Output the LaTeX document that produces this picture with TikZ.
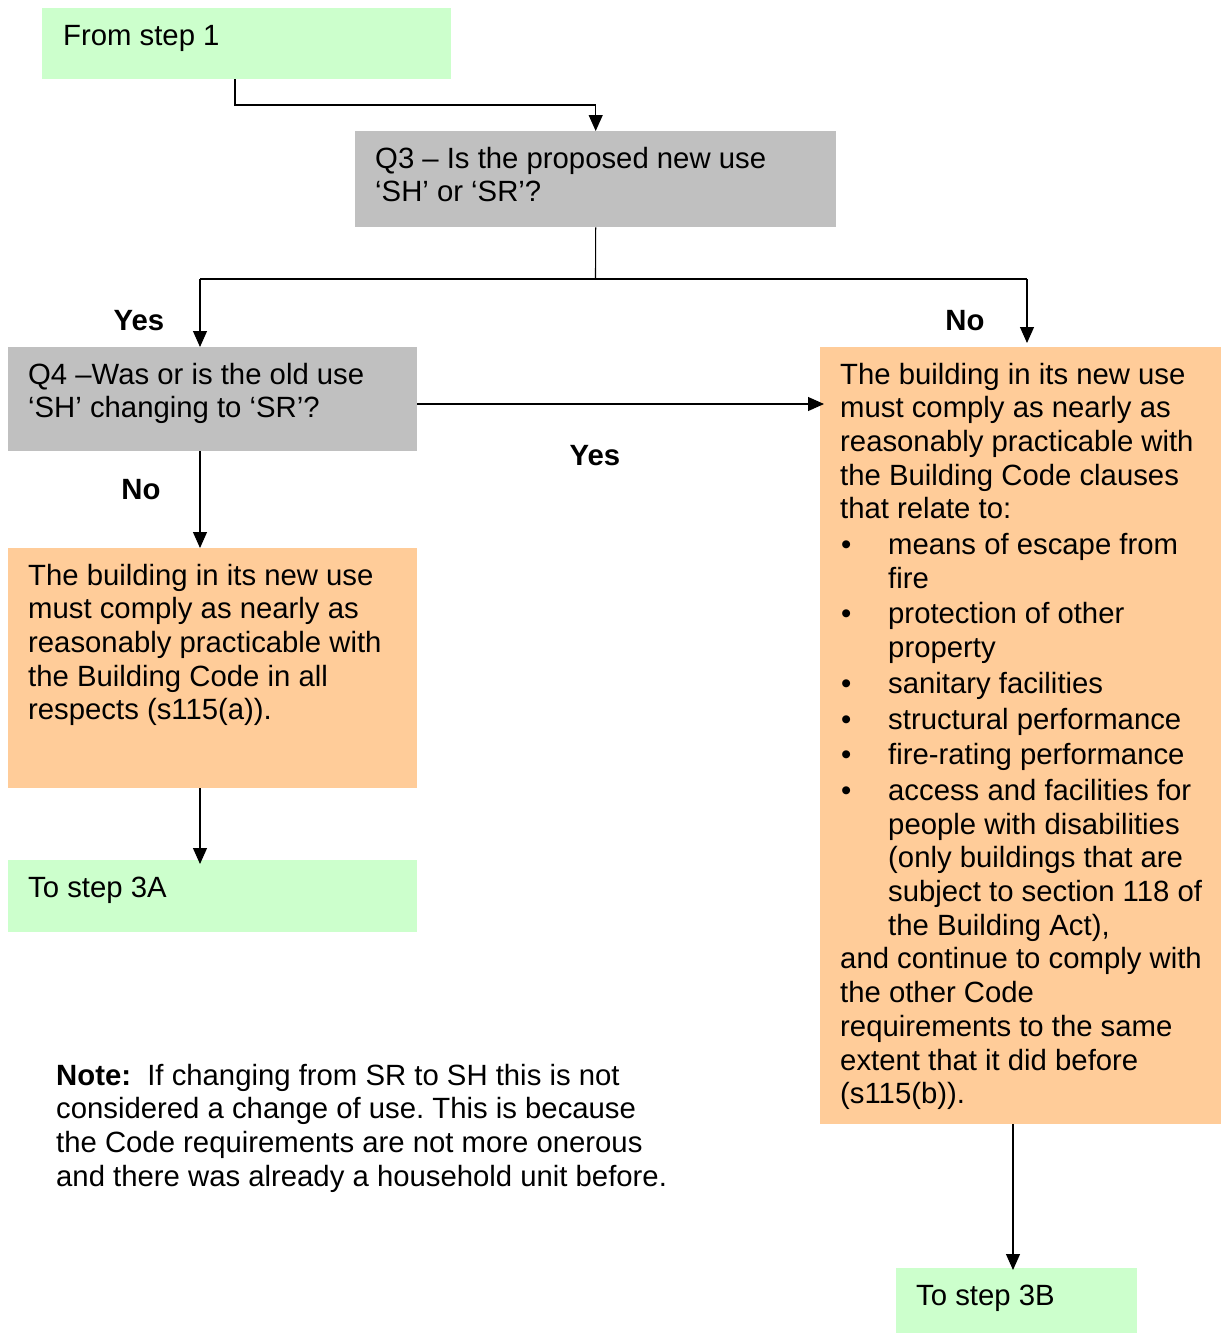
\documentclass[tikz,border=0pt]{standalone}
\usepackage{fontspec}
\setmainfont{Liberation Sans}
\usetikzlibrary{arrows.meta}
\definecolor{boxgreen}{HTML}{CCFFCC}
\definecolor{boxgray}{HTML}{C0C0C0}
\definecolor{boxorange}{HTML}{FFCC99}
\newcommand{\bitem}{\makebox[48pt][l]{\hspace{1pt}•}}
\newcommand{\bcont}{\hspace*{48pt}}
\frenchspacing
\begin{document}
\begin{tikzpicture}[x=1pt,y=-1pt,
  box/.style={draw=none, inner sep=0pt, anchor=north west},
  txt/.style={anchor=base west, inner sep=0pt, font=\fontsize{29.3}{33.7}\selectfont},
  lbl/.style={anchor=base, inner sep=0pt, font=\fontsize{29.3}{33.7}\selectfont\bfseries},
  arr/.style={line width=1.1pt, -{Triangle[length=16pt,width=14pt]}},
  ln/.style={line width=1.1pt}]
\useasboundingbox (0,0) rectangle (1221,1333);
% boxes
\node[box, fill=boxgreen, minimum width=409pt, minimum height=71pt] (s1) at (42,8) {};
\node[box, fill=boxgray, minimum width=481pt, minimum height=96pt] (q3) at (355,131) {};
\node[box, fill=boxgray, minimum width=409pt, minimum height=104pt] (q4) at (8,347) {};
\node[box, fill=boxorange, minimum width=409pt, minimum height=240pt] (lo) at (8,548) {};
\node[box, fill=boxgreen, minimum width=409pt, minimum height=72pt] (s3a) at (8,860) {};
\node[box, fill=boxorange, minimum width=401pt, minimum height=777pt] (ro) at (820,347) {};
\node[box, fill=boxgreen, minimum width=241pt, minimum height=65pt] (s3b) at (896,1268) {};
% texts
\node[txt] (t1) at (63,45) {From step 1};
\node[txt] (tq3) at (375,168) {\parbox[t]{470pt}{Q3 – Is the proposed new use\\‘SH’ or ‘SR’?}};
\node[txt] (tq4) at (28,384) {\parbox[t]{400pt}{Q4 –Was or is the old use\\‘SH’ changing to ‘SR’?}};
\node[txt] (tlo) at (28,585) {\parbox[t]{400pt}{The building in its new use\\must comply as nearly as\\reasonably practicable with\\the Building Code in all\\respects (s115(a)).}};
\node[txt] (t3a) at (28,897) {To step 3A};
\node[txt] (tro) at (840,384) {\parbox[t]{400pt}{The building in its new use\\must comply as nearly as\\reasonably practicable with\\the Building Code clauses\\that relate to:\\[2pt]
\bitem means of escape from\\\bcont fire\\[2pt]
\bitem protection of other\\\bcont property\\[2pt]
\bitem sanitary facilities\\[2pt]
\bitem structural performance\\[2pt]
\bitem fire-rating performance\\[2pt]
\bitem access and facilities for\\\bcont people with disabilities\\\bcont (only buildings that are\\\bcont subject to section 118 of\\\bcont the Building Act),\\
and continue to comply with\\the other Code\\requirements to the same\\extent that it did before\\(s115(b)).}};
\node[txt] (t3b) at (916,1305) {To step 3B};
\node[txt] (note) at (56,1085) {\parbox[t]{700pt}{\textbf{Note:}\ \ If changing from SR to SH this is not\\considered a change of use. This is because\\the Code requirements are not more onerous\\and there was already a household unit before.}};
% labels
\node[lbl] (yes1) at (139,330) {Yes};
\node[lbl] (no1) at (965,330) {No};
\node[lbl] (yes2) at (595,465) {Yes};
\node[lbl] (no2) at (141,499) {No};
% junction coordinates
\coordinate (j1) at (235,105);
\coordinate (jm) at (595.5,279);
\coordinate (jl) at (200,279);
\coordinate (jr) at (1027,279);
\coordinate (hy) at (0,404);
\coordinate (jb) at (1013,0);
% connectors
\draw[arr] (s1.south -| j1) -- (j1) -| (q3.north);
\draw[ln] (q3.south) -- (jm);
\draw[ln] (jl) -- (jr);
\draw[arr] (jl) -- (q4.north -| jl);
\draw[arr] (jr) -- ([yshift=4pt]ro.north -| jr);
\draw[arr] (q4.east |- hy) -- ([xshift=4pt]ro.west |- hy);
\draw[arr] (q4.south -| jl) -- (lo.north -| jl);
\draw[arr] (lo.south -| jl) -- ([yshift=-4pt]s3a.north -| jl);
\draw[arr] (ro.south -| jb) -- ([yshift=-2pt]s3b.north -| jb);
\end{tikzpicture}
\end{document}
